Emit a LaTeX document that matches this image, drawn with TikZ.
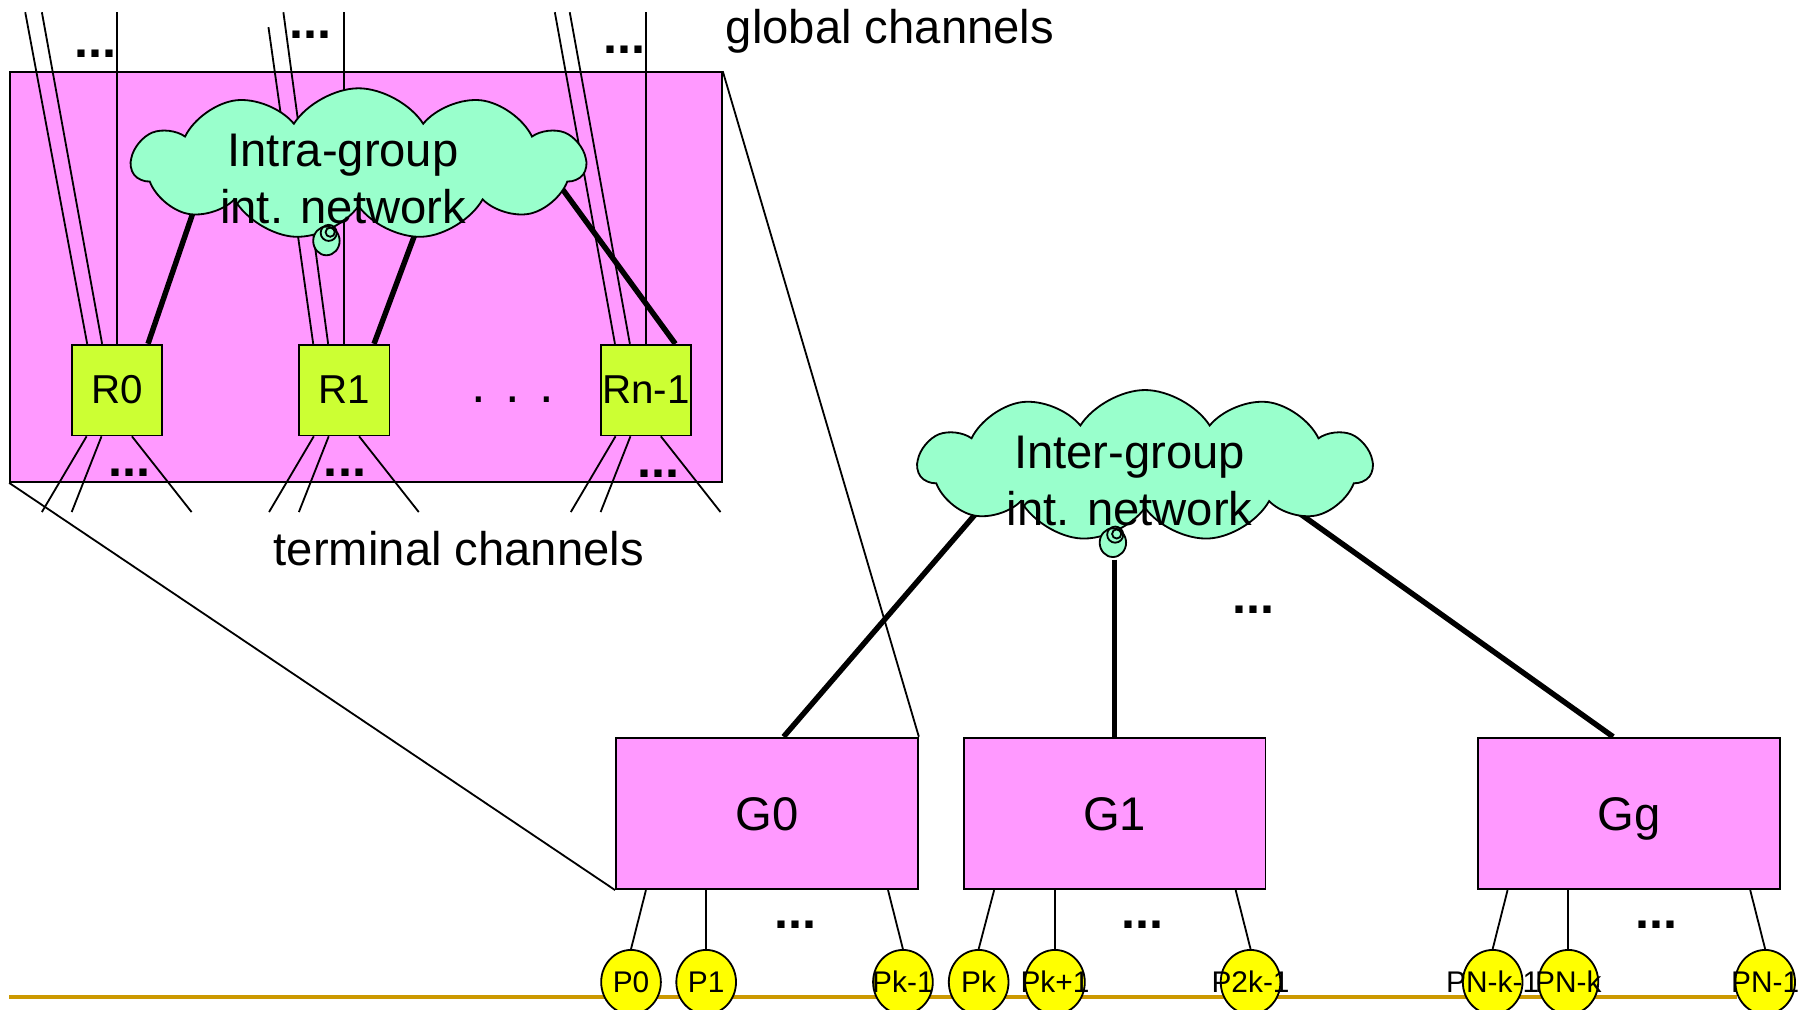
\documentclass[tikz,border=0pt]{standalone}
\usepackage{fontspec}
\setmainfont{Liberation Sans}
\usepackage{tikz}
\usetikzlibrary{shapes.geometric, shapes.symbols, calc, positioning}
\definecolor{grouppink}{RGB}{255,153,255}
\definecolor{netgreen}{RGB}{153,255,204}
\definecolor{routerlime}{RGB}{204,255,51}
\definecolor{procyellow}{RGB}{255,255,0}
\definecolor{busgold}{RGB}{204,153,0}

\begin{document}
\begin{tikzpicture}[x=0.01cm, y=-0.01cm, font=\fontsize{11.7}{14.1}\selectfont]
% TikZ styles
\tikzset{
  groupbox/.style={rectangle, draw=black, fill=grouppink, line width=0.45pt, inner sep=0pt},
  zoombox/.style={groupbox, minimum width=6.2cm, minimum height=3.57cm},
  gbox/.style={groupbox, minimum width=2.63cm, minimum height=1.32cm, text height=8.4pt, text depth=0pt},
  router/.style={rectangle, draw=black, fill=routerlime, line width=0.45pt, minimum width=0.79cm, minimum height=0.79cm, inner sep=0pt, font=\fontsize{10}{12}\selectfont},
  netcloud/.style={cloud, draw=black, fill=netgreen, line width=0.45pt, cloud puffs=11, cloud puff arc=115, aspect=3, minimum width=3.95cm, minimum height=1.32cm, inner sep=0pt},
  nettext/.style={align=center, inner sep=0pt},
  bubble/.style={ellipse, draw=black, fill=netgreen, line width=0.45pt, minimum width=0.23cm, minimum height=0.25cm, inner sep=0pt},
  ring/.style={circle, draw=black, line width=0.45pt, inner sep=0pt},
  proc/.style={ellipse, draw=black, fill=procyellow, line width=0.45pt, minimum width=0.52cm, minimum height=0.56cm, inner sep=0pt, font=\fontsize{7.4}{9}\selectfont},
  dots/.style={inner sep=0pt, font=\fontsize{12.5}{15}\selectfont\bfseries},
  chan/.style={line width=0.45pt},
  link/.style={line width=1.35pt},
  bus/.style={line width=1.1pt, draw=busgold}
}
\useasboundingbox (0,0) rectangle (1568,880);

%==========================
% One group in detail (top left)
%==========================
\node[zoombox] (group) at (319,241.5) {};
\node[router] (R0) at (102,340) {R0};
\node[router] (R1) at (300,340) {R1};
\node[router] (Rn1) at (563,340) {Rn-1};
\coordinate (intrac) at (312.5,143);

% global channels
\draw[chan] ($(R0.north)+(-26,0)$) -- ($(R0.north)+(-80,-289)$);
\draw[chan] ($(R0.north)+(-13,0)$) -- ($(R0.north)+(-65.5,-289)$);
\draw[chan] (R0.north) -- ($(R0.north)+(0,-289)$);
\draw[chan] ($(R1.north)+(-27,0)$) -- ($(R1.north)+(-66,-276)$);
\draw[chan] ($(R1.north)+(-14,0)$) -- ($(R1.north)+(-53,-289)$);
\draw[chan] (R1.north) -- ($(R1.north)+(0,-289)$);
\draw[chan] ($(Rn1.north)+(-27,0)$) -- ($(Rn1.north)+(-79.4,-289)$);
\draw[chan] ($(Rn1.north)+(-14,0)$) -- ($(Rn1.north)+(-66.4,-289)$);
\draw[chan] (Rn1.north) -- ($(Rn1.north)+(0,-289)$);

% terminal channels
\draw[chan] ($(R0.south)+(-26.5,0)$) -- ($(R0.south)+(-65.5,66)$);
\draw[chan] ($(R0.south)+(-13.5,0)$) -- ($(R0.south)+(-39.5,66)$);
\draw[chan] ($(R0.south)+(13,0)$) -- ($(R0.south)+(65,66)$);
\draw[chan] ($(R1.south)+(-26.5,0)$) -- ($(R1.south)+(-65.5,66)$);
\draw[chan] ($(R1.south)+(-13.5,0)$) -- ($(R1.south)+(-39.5,66)$);
\draw[chan] ($(R1.south)+(13,0)$) -- ($(R1.south)+(65,66)$);
\draw[chan] ($(Rn1.south)+(-26.5,0)$) -- ($(Rn1.south)+(-65.5,66)$);
\draw[chan] ($(Rn1.south)+(-13.5,0)$) -- ($(Rn1.south)+(-39.5,66)$);
\draw[chan] ($(Rn1.south)+(13,0)$) -- ($(Rn1.south)+(65,66)$);

% links cloud -> routers
\draw[link] ($(intrac)+(-144.5,43)$) -- ($(R0.north)+(27,0)$);
\draw[link] ($(intrac)+(51.5,55)$) -- ($(R1.north)+(26,0)$);
\draw[link] ($(intrac)+(172,14)$) -- ($(Rn1.north)+(25.6,0)$);

\node[netcloud] (intra) at (intrac) {};
\node[bubble] (intrabub) at ($(intra.center)+(-28,67)$) {};
\node[ring, minimum size=0.14cm] (intraring) at ($(intra.center)+(-26,60)$) {};
\node[ring, minimum size=0.08cm] (intraeye) at ($(intra.center)+(-24.7,59.4)$) {};
\node[nettext] (intratext) at ($(intra.center)+(-13.5,13)$) {Intra-group\\int. network};

\node[dots] (r0top) at (83,47) {...};
\node[dots] (r1top) at (271,30.5) {...};
\node[dots] (rn1top) at (544,43.6) {...};
\node[dots] (r0bot) at (113,412) {...};
\node[dots] (r1bot) at (300.7,412) {...};
\node[dots] (rn1bot) at (574,413) {...};
\node[inner sep=0pt, font=\fontsize{13}{15}\selectfont] (rdots) at (447,348.6) {. . .};

\node[anchor=base west, inner sep=0pt] (globaltxt) at (632,37.8) {global channels};
\node[anchor=base west, inner sep=0pt] (termtxt) at (238,492.5) {terminal channels};

%==========================
% Groups + inter-group network
%==========================
\node[gbox] (G0) at (668.5,709) {G0};
\node[gbox] (G1) at (971.5,709) {G1};
\node[gbox] (Gg) at (1419.7,709) {Gg};

% zoom lines
\draw[chan] (group.south west) -- (G0.south west);
\draw[chan] (group.north east) -- (G0.north east);

\coordinate (interc) at (998,406);
\draw[link] ($(interc)+(-146,40)$) -- ($(G0.north)+(14.5,0)$);
\draw[link] ($(interc)+(134,41)$) -- ($(Gg.north)+(-13.7,0)$);

\node[netcloud] (inter) at (interc) {};
\node[bubble] (interbub) at ($(inter.center)+(-28,67)$) {};
\node[ring, minimum size=0.14cm] (interring) at ($(inter.center)+(-26,60)$) {};
\node[ring, minimum size=0.08cm] (intereye) at ($(inter.center)+(-24.7,59.4)$) {};
\node[nettext] (intertext) at ($(inter.center)+(-13.5,13)$) {Inter-group\\int. network};
\draw[link] ($(G1.north |- interbub.south)+(0,1.5)$) -- (G1.north);

\node[dots] (gdots) at (1092.6,531.7) {...};

%==========================
% Processors on the bus
%==========================
\coordinate (busleft) at (8,869);
\coordinate (busright) at (1514,869);
\draw[bus] (busleft) -- (busright);

\node[proc] (P0) at (550,856) {\makebox[0pt]{P0}};
\node[proc] (P1) at (615.5,856) {\makebox[0pt]{P1}};
\node[proc] (Pk1) at (787,856) {\makebox[0pt]{Pk-1}};
\node[proc] (Pk) at (853,856) {\makebox[0pt]{Pk}};
\node[proc] (Pkp1) at (919.5,856) {\makebox[0pt]{Pk+1}};
\node[proc] (P2k1) at (1090,856) {\makebox[0pt]{P2k-1}};
\node[proc] (PNk1) at (1301,856) {\makebox[0pt]{PN-k-1}};
\node[proc] (PNk) at (1367,856) {\makebox[0pt]{PN-k}};
\node[proc] (PN1) at (1538.5,856) {\makebox[0pt]{PN-1}};

% === Terminal links ===
\draw[chan] ($(G0.south)+(-105.5,0)$) -- (P0.north);
\draw[chan] (P1.north |- G0.south) -- (P1.north);
\draw[chan] ($(G0.south)+(105.5,0)$) -- (Pk1.north);
\draw[chan] ($(G1.south)+(-105,0)$) -- (Pk.north);
\draw[chan] (Pkp1.north |- G1.south) -- (Pkp1.north);
\draw[chan] ($(G1.south)+(105.5,0)$) -- (P2k1.north);
\draw[chan] ($(Gg.south)+(-105.7,0)$) -- (PNk1.north);
\draw[chan] (PNk.north |- Gg.south) -- (PNk.north);
\draw[chan] ($(Gg.south)+(105.8,0)$) -- (PN1.north);

\node[dots] (g0dots) at (693,806) {...};
\node[dots] (g1dots) at (996,806) {...};
\node[dots] (ggdots) at (1444,806) {...};
\end{tikzpicture}
\end{document}
